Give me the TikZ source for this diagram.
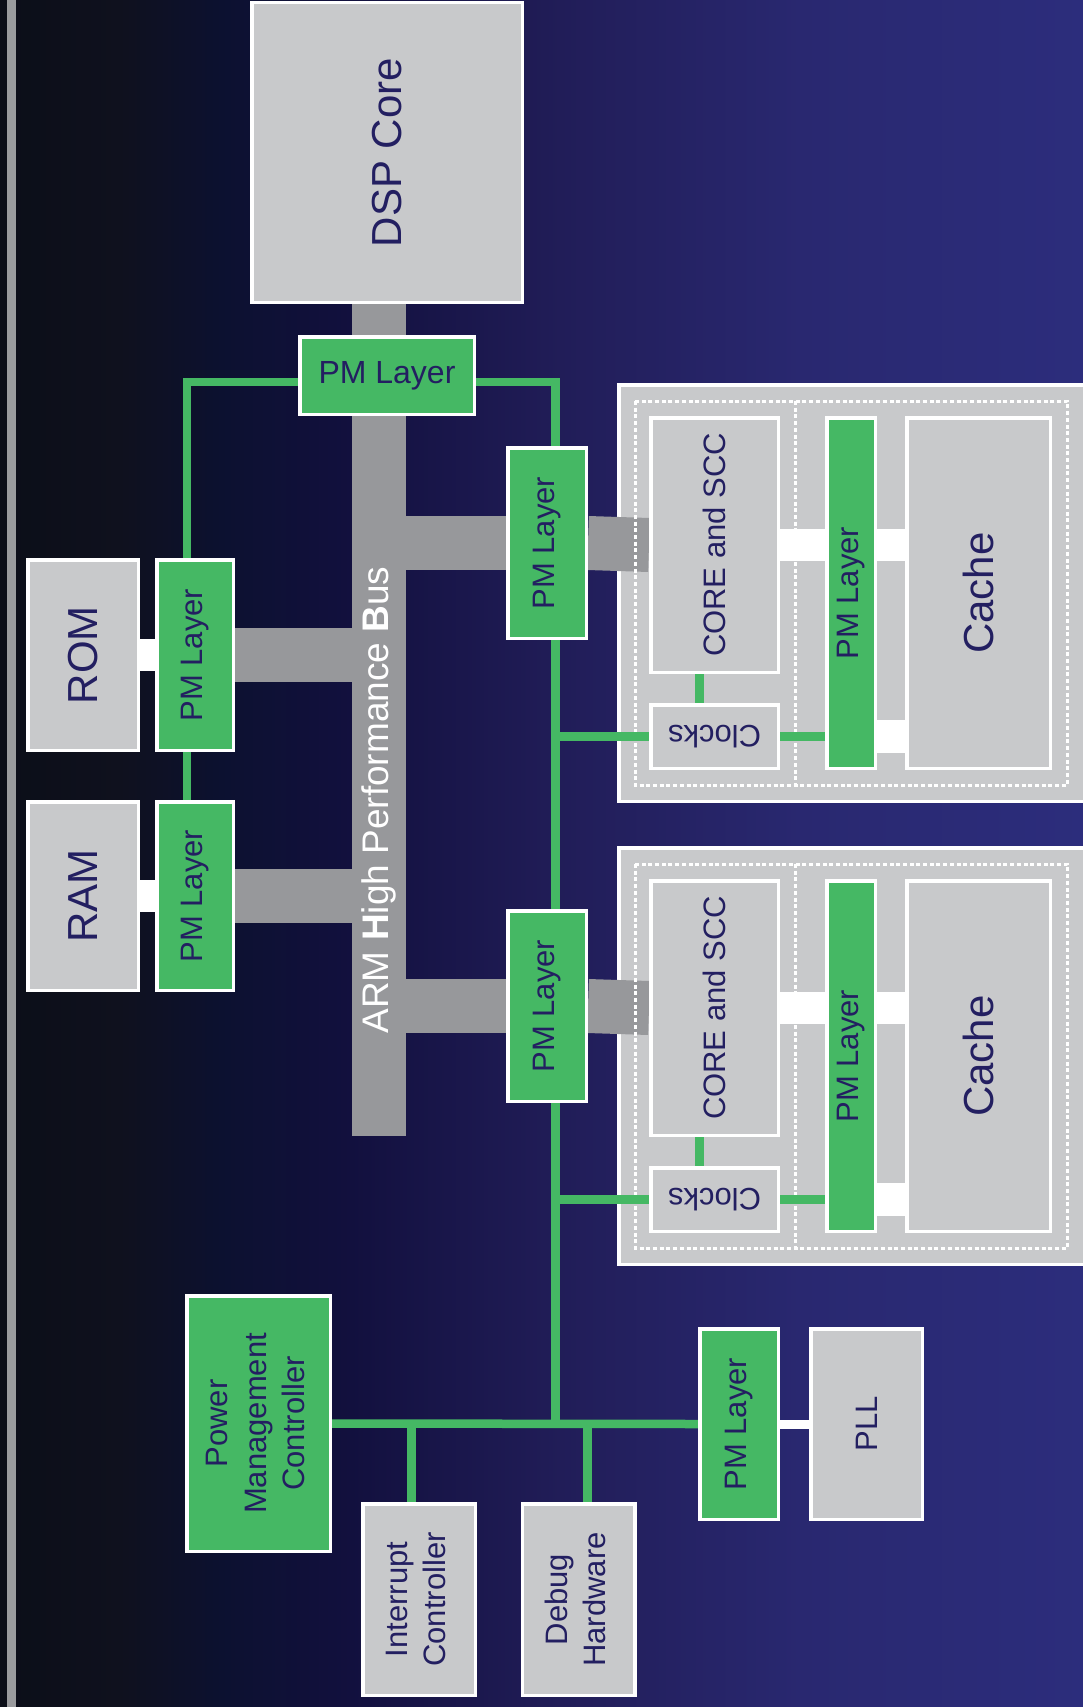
\documentclass[tikz,border=0pt]{standalone}
\usepackage{graphicx}
\usepackage{fontspec}
\setmainfont{Liberation Sans}
\usepackage{xcolor}

\definecolor{pmgreen}{RGB}{69,184,100}
\definecolor{boxgrey}{RGB}{200,201,203}
\definecolor{busgrey}{RGB}{151,152,155}
\definecolor{edgegrey}{RGB}{154,155,158}
\definecolor{textnavy}{RGB}{35,31,97}
\definecolor{bgA}{RGB}{11,14,24}
\definecolor{bgB}{RGB}{15,17,30}
\definecolor{bgC}{RGB}{12,17,48}
\definecolor{bgD}{RGB}{18,16,62}
\definecolor{bgE}{RGB}{33,29,88}
\definecolor{bgF}{RGB}{41,40,112}
\definecolor{bgG}{RGB}{44,45,124}

\newcommand{\vlab}[1]{\rotatebox{90}{#1}}
\newcommand{\bigfont}{\fontsize{42}{48}\selectfont}
\newcommand{\midfont}{\fontsize{31}{38.5}\selectfont}

\pgfdeclarelayer{back}
\pgfdeclarelayer{links}
\pgfsetlayers{back,links,main}

\begin{document}
\begin{tikzpicture}[x=1pt,y=-1pt,
  chip/.style={draw=white,line width=3.5pt,fill=boxgrey,inner sep=0pt,text=textnavy,font=\midfont},
  pmlayer/.style={chip,fill=pmgreen},
  pmwire/.style={draw=pmgreen,line width=8.5pt},
  whitegap/.style={draw=white},
  busarm/.style={draw=busgrey,line width=54pt},
  dotframe/.style={draw=white,line width=3pt,dash pattern=on 4pt off 2.7pt}
]
  \useasboundingbox (0,0) rectangle (1083,1707);

  % bus and processor
  \node[fill=busgrey,inner sep=0pt,minimum width=54pt,minimum height=832pt] (bus) at (379,720) {};
  \node[text=white,font=\fontsize{37}{44}\selectfont,rotate=90] (bustxt) at (379,800) {ARM \textbf{H}igh Performance \textbf{B}us};
  \node[chip,font=\bigfont,minimum width=270.5pt,minimum height=299.5pt] (dsp) at (387,152.5) {\vlab{DSP Core}};
  \node[pmlayer,font=\fontsize{32}{38}\selectfont,minimum width=174.5pt,minimum height=77.5pt] (toppm) at (387,375.5) {PM Layer};

  % memories
  \node[chip,font=\bigfont,minimum width=110.5pt,minimum height=190.5pt] (rom) at (83,655) {\vlab{ROM}};
  \node[pmlayer,minimum width=76.5pt,minimum height=190.5pt] (rompm) at (195,655) {\vlab{PM Layer}};
  \node[chip,font=\bigfont,minimum width=110.5pt,minimum height=188.5pt] (ram) at (83,896) {\vlab{RAM}};
  \node[pmlayer,minimum width=76.5pt,minimum height=188.5pt] (rampm) at (195,896) {\vlab{PM Layer}};

  % two core clusters
  \foreach \i/\dy in {1/0,2/463}{
    \node[pmlayer,minimum width=78.5pt,minimum height=190.5pt] (buspm\i) at (547,543+\dy) {\vlab{PM Layer}};
    \node[chip,minimum width=127.5pt,minimum height=254.5pt] (core\i) at (714.5,545+\dy) {\vlab{CORE and SCC}};
    \node[chip,minimum width=127.5pt,minimum height=63.5pt] (clocks\i) at (714.5,736.5+\dy) {\rotatebox{180}{Clocks}};
    \node[pmlayer,minimum width=48.5pt,minimum height=350.5pt] (cpm\i) at (851,593+\dy) {\vlab{PM Layer}};
    \node[chip,font=\bigfont,minimum width=143.5pt,minimum height=350.5pt] (cache\i) at (978.5,593+\dy) {\vlab{Cache}};
  }

  % power management and peripherals
  \node[pmlayer,minimum width=143.5pt,minimum height=255.5pt] (pmc) at (258.5,1423.5)
    {\vlab{\begin{tabular}{@{}c@{}}Power\\Management\\Controller\end{tabular}}};
  \node[chip,minimum width=112.5pt,minimum height=191.5pt] (intc) at (419,1599.5)
    {\vlab{\begin{tabular}{@{}c@{}}Interrupt\\Controller\end{tabular}}};
  \node[chip,minimum width=112.5pt,minimum height=191.5pt] (dbg) at (578.7,1599.5)
    {\vlab{\begin{tabular}{@{}c@{}}Debug\\Hardware\end{tabular}}};
  \node[pmlayer,minimum width=78.5pt,minimum height=190.5pt] (botpm) at (739,1424) {\vlab{PM Layer}};
  \node[chip,minimum width=111.5pt,minimum height=190.5pt] (pll) at (866.5,1424) {\vlab{PLL}};

  \coordinate (lft) at (187,382);
  \coordinate (rgt) at (555.5,382);
  \coordinate (tapI) at (411.3,1423.5);
  \coordinate (tapD) at (587.5,1423.5);

  \begin{pgfonlayer}{back}
    % backdrop
    \foreach \xa/\xb/\ca/\cb in {0/121/bgA/bgB,120/221/bgB/bgC,220/351/bgC/bgD,350/561/bgD/bgE,560/801/bgE/bgF,800/1083/bgF/bgG}
      \shade[left color=\ca,right color=\cb] (\xa,0) rectangle (\xb,1707);
    \fill[edgegrey] (6.5,0) rectangle (15.5,1707);
    \foreach \i/\dy in {1/0,2/463}
      \node[chip,minimum width=474.5pt,minimum height=416.5pt] (cluster\i) at (856,593+\dy) {};
    % bus arms
    \draw[busarm] (rompm.east) -- (rompm.east -| bus.west);
    \draw[busarm] (rampm.east) -- (rampm.east -| bus.west);
    \foreach \i/\dy in {1/0,2/463}{
      \draw[busarm] (bus.east |- buspm\i.west) -- (buspm\i.west);
      \draw[busarm] (buspm\i.east) -- (core\i.west);
      \draw[dotframe] (635,401+\dy) rectangle (1067,785+\dy);
      \draw[dotframe] (795,401+\dy) -- (795,785+\dy);
    }
  \end{pgfonlayer}

  \begin{pgfonlayer}{links}
    \draw[pmwire] (toppm.west |- lft) -- (lft) -- (lft |- rampm.north);
    \draw[pmwire] (toppm.east |- rgt) -- (rgt) -- (rgt |- pmc.east);
    \draw[pmwire] (pmc.east) -- (botpm.west);
    \draw[pmwire] (tapI) -- (tapI |- intc.north);
    \draw[pmwire] (tapD) -- (tapD |- dbg.north);
    \foreach \i in {1,2}{
      \draw[pmwire] (rgt |- clocks\i.west) -- (clocks\i.west);
      \draw[pmwire] (clocks\i.east) -- (cpm\i.west |- clocks\i.east);
      \draw[pmwire] ([xshift=-15pt]core\i.south) -- ([xshift=-15pt]clocks\i.north);
      \draw[whitegap,line width=32pt] (core\i.east) -- (cpm\i.west |- core\i.east);
      \draw[whitegap,line width=32pt] (cpm\i.east |- core\i.east) -- (cache\i.west |- core\i.east);
      \draw[whitegap,line width=33pt] (cpm\i.east |- clocks\i.east) -- (cache\i.west |- clocks\i.east);
    }
    \draw[whitegap,line width=32pt] (rom.east) -- (rompm.west);
    \draw[whitegap,line width=32pt] (ram.east) -- (rampm.west);
    \draw[whitegap,line width=9pt] (botpm.east) -- (pll.west);
  \end{pgfonlayer}
\end{tikzpicture}
\end{document}
